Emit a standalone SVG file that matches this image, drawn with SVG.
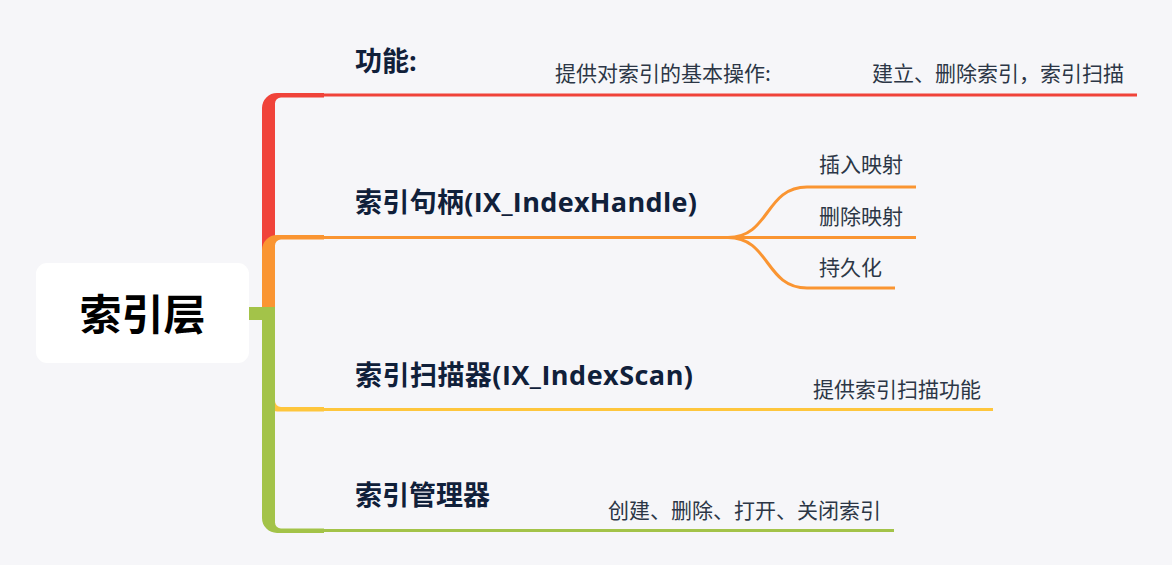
<svg xmlns="http://www.w3.org/2000/svg" width="1172" height="565" viewBox="0 0 1172 565">
<defs>
<style>
.bg{fill:#f6f6f9}
.lbl{font-family:"Open Sans","Noto Sans CJK SC",sans-serif;font-weight:700;font-size:27px;fill:#10203a}
.sub{font-family:"Noto Sans CJK SC",sans-serif;font-size:21px;fill:#2c3646}
.root{font-family:"Noto Sans CJK SC",sans-serif;font-weight:700;font-size:42px;fill:#000}
.ln{fill:none;stroke-width:3}
</style>
</defs>
<rect class="bg" x="0" y="0" width="1172" height="565"/>
<g id="connectors">
<path d="M262,307 V108 A15,15 0 0 1 277,93 H324 V97.5 H281 A6,6 0 0 0 275,103.5 V307 Z" fill="#f0433a"/>
<line class="ln" x1="320" y1="95" x2="1137" y2="95" stroke="#f0433a"/>
<path d="M262,307 V250 A15,15 0 0 1 277,235 H324 V239.5 H281 A6,6 0 0 0 275,245.5 V307 Z" fill="#fa9532"/>
<path class="ln" d="M320,237.5 H728 C770,237.5 765,187 807,187 H916 M728,237.5 H916 M728,237.5 C770,237.5 765,288 807,288 H895" stroke="#fa9532"/>
<path d="M262,307 V396.5 A15,15 0 0 0 277,411.5 H324 V407 H281 A6,6 0 0 1 275,401 V307 Z" fill="#fec63d"/>
<line class="ln" x1="320" y1="409.5" x2="993" y2="409.5" stroke="#fec63d"/>
<path d="M262,307 V518 A15,15 0 0 0 277,533 H324 V528.5 H281 A6,6 0 0 1 275,522.5 V307 Z" fill="#a3c349"/>
<line class="ln" x1="320" y1="530.5" x2="894" y2="530.5" stroke="#a3c349"/>
<rect x="249" y="307" width="20" height="13" fill="#a3c349"/>
</g>
<g id="root">
<rect x="36" y="263" width="213" height="100" rx="11" fill="#ffffff"/>
<text class="root" x="142.5" y="330" text-anchor="middle">索引层</text>
</g>
<g id="n-func">
<text class="lbl" x="355" y="71">功能:</text>
<text class="sub" x="555" y="81">提供对索引的基本操作:</text>
<text class="sub" x="872" y="81">建立、删除索引，索引扫描</text>
</g>
<g id="n-handle">
<text class="lbl" x="355" y="212" textLength="342" lengthAdjust="spacing">索引句柄(IX_IndexHandle)</text>
<text class="sub" x="819" y="172">插入映射</text>
<text class="sub" x="819" y="224">删除映射</text>
<text class="sub" x="819" y="275">持久化</text>
</g>
<g id="n-scan">
<text class="lbl" x="355" y="385" textLength="338" lengthAdjust="spacing">索引扫描器(IX_IndexScan)</text>
<text class="sub" x="813" y="397">提供索引扫描功能</text>
</g>
<g id="n-mgr">
<text class="lbl" x="355" y="505">索引管理器</text>
<text class="sub" x="608" y="518">创建、删除、打开、关闭索引</text>
</g>
</svg>
